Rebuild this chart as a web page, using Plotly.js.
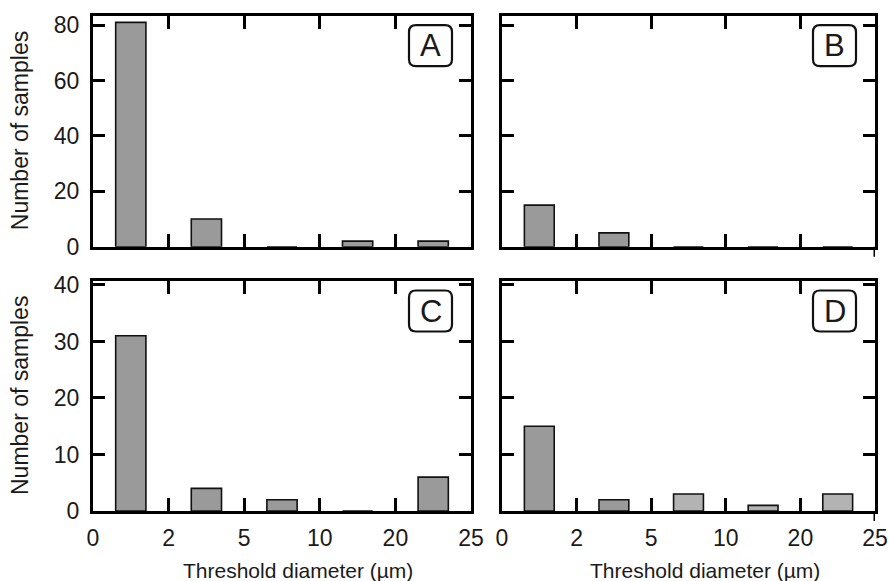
<!DOCTYPE html>
<html><head><meta charset="utf-8">
<script src="https://cdn.plot.ly/plotly-3.0.1.min.js"></script>
<style>html,body{margin:0;padding:0;background:#fff}#chart{width:889px;height:581px}</style>
</head><body><div id="chart"></div>
<script>
// ---- data ----
const binLabels = ['0–2', '2–5', '5–10', '10–20', '20–25'];
const tickLabels = ['0', '2', '5', '10', '20', '25'];
const countsA = [81, 10, 0, 2, 2];
const countsB = [15, 5, 0, 0, 0];
const countsC = [31, 4, 2, 0, 6];
const countsD = [15, 2, 3, 1, 3];
const shadeD = ['dark', 'dark', 'light', 'light', 'light'];
const panelLetters = ['A', 'B', 'C', 'D'];
const yTicksTop = [0, 20, 40, 60, 80];
const yTicksBottom = [0, 10, 20, 30, 40];
const xTitle = 'Threshold diameter (µm)';
const yTitle = 'Number of samples';

// ---- styling ----
const W = 889, H = 581;
const FONT = 'Liberation Sans, Arial, Helvetica, sans-serif';
const TXT = '#1a1a1a';
const DARK = '#9a9a9a', LIGHT = '#b3b3b3';
const binPos = binLabels.map((_, i) => i + 0.5);
const tickPos = tickLabels.map((_, i) => i);

// panel pixel boxes [left, right, top, bottom]
const boxes = [
  [93, 471, 15.7, 246.7],
  [502, 875, 15.7, 246.7],
  [93, 471, 281, 511],
  [502, 875, 281, 511]
];
const yRanges = [[0, 83.4], [0, 83.4], [0, 40.7], [0, 40.7]];
const countSets = [countsA, countsB, countsC, countsD];

function bar(counts, idx, colors) {
  const s = idx === 0 ? '' : String(idx + 1);
  return {
    type: 'bar', x: binPos, y: counts, width: 0.4,
    xaxis: 'x' + s, yaxis: 'y' + s,
    marker: { color: colors, line: { color: '#111', width: 1.6 } },
    hovertext: binLabels, hoverinfo: 'text+y', textposition: 'none', showlegend: false
  };
}

const traces = countSets.map((c, i) => {
  const colors = i === 3 ? shadeD.map(s => s === 'dark' ? DARK : LIGHT) : c.map(() => DARK);
  return bar(c, i, colors);
});

const layout = {
  width: W, height: H,
  margin: { l: 0, r: 0, t: 0, b: 0 },
  paper_bgcolor: '#fff', plot_bgcolor: '#fff',
  font: { family: FONT, color: TXT },
  bargap: 0,
  shapes: [], annotations: []
};

boxes.forEach((b, i) => {
  const s = i === 0 ? '' : String(i + 1);
  const left = i % 2 === 0;
  const bottom = i >= 2;
  const pw = b[1] - b[0], ph = b[3] - b[2];
  layout['xaxis' + s] = {
    domain: [b[0] / W, b[1] / W], anchor: 'y' + s,
    range: [0, 5], tickmode: 'array', tickvals: tickPos, ticktext: tickLabels,
    showticklabels: bottom, ticks: 'inside', ticklen: 13, tickwidth: 3, tickcolor: '#000',
    showline: true, linewidth: 3, linecolor: '#000', mirror: 'ticks',
    showgrid: false, zeroline: false, fixedrange: true, automargin: false,
    ticklabelstandoff: 4, ticklabeloverflow: 'allow',
    tickfont: { size: 23, family: FONT, color: TXT }
  };
  layout['yaxis' + s] = {
    domain: [1 - b[3] / H, 1 - b[2] / H], anchor: 'x' + s,
    range: yRanges[i], tickmode: 'array', tickvals: bottom ? yTicksBottom : yTicksTop,
    showticklabels: left, ticks: 'inside', ticklen: 12, tickwidth: 3, tickcolor: '#000',
    showline: true, linewidth: 3, linecolor: '#000', mirror: 'ticks',
    showgrid: false, zeroline: false, fixedrange: true, automargin: false,
    ticklabelstandoff: 6, ticklabeloverflow: 'allow',
    tickfont: { size: 23, family: FONT, color: TXT }
  };
  if (left) {
    layout.annotations.push({
      xref: 'x' + s + ' domain', yref: 'y' + s + ' domain',
      x: -73 / pw, y: 0.5, xanchor: 'center', yanchor: 'middle', textangle: -90,
      text: yTitle, showarrow: false,
      font: { size: 23, family: FONT, color: TXT }
    });
  }
  if (bottom) {
    layout.annotations.push({
      xref: 'x' + s + ' domain', yref: 'y' + s + ' domain',
      x: 0.5 + 16 / pw, y: -59 / ph, xanchor: 'center', yanchor: 'middle',
      text: xTitle, showarrow: false,
      font: { size: 21, family: FONT, color: TXT }
    });
  }
  // rounded label box
  const x0 = 1 - 62 / pw, x1 = 1 - 19 / pw;
  const y1 = 1 - 9.5 / ph, y0 = 1 - 50.5 / ph;
  const rx = 7 / pw, ry = 7 / ph;
  const path = `M ${x0 + rx} ${y1} L ${x1 - rx} ${y1} Q ${x1} ${y1} ${x1} ${y1 - ry} ` +
    `L ${x1} ${y0 + ry} Q ${x1} ${y0} ${x1 - rx} ${y0} L ${x0 + rx} ${y0} Q ${x0} ${y0} ${x0} ${y0 + ry} ` +
    `L ${x0} ${y1 - ry} Q ${x0} ${y1} ${x0 + rx} ${y1} Z`;
  layout.shapes.push({
    type: 'path', xref: 'x' + s + ' domain', yref: 'y' + s + ' domain', path: path,
    line: { color: '#111', width: 2.2 }, fillcolor: 'rgba(0,0,0,0)'
  });
  layout.annotations.push({
    xref: 'x' + s + ' domain', yref: 'y' + s + ' domain',
    x: (x0 + x1) / 2, y: (y0 + y1) / 2, xanchor: 'center', yanchor: 'middle',
    text: panelLetters[i], showarrow: false,
    font: { size: 31, family: FONT, color: TXT }
  });
  // right-hand panels: the frame's right edge extends below the baseline
  if (!left) {
    layout.shapes.push({
      type: 'line', xref: 'x' + s, yref: 'y' + s + ' domain',
      x0: 5, x1: 5, y0: 0, y1: -10 / ph,
      line: { color: '#000', width: 3 }
    });
  }
});

Plotly.newPlot('chart', traces, layout, { displayModeBar: false, staticPlot: true });
</script>
</body></html>
